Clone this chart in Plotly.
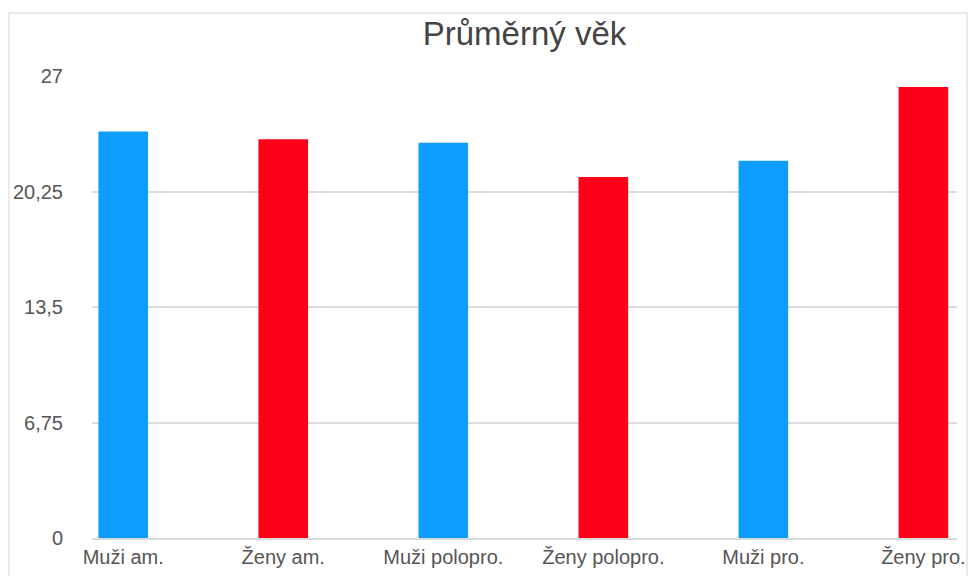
import plotly.graph_objects as go

categories = ["Muži am.", "Ženy am.", "Muži polopro.", "Ženy polopro.", "Muži pro.", "Ženy pro."]
values = [23.75, 23.3, 23.1, 21.1, 22.05, 26.35]
colors = ["#0F9CFF", "#FF0019", "#0F9CFF", "#FF0019", "#0F9CFF", "#FF0019"]
tick_vals = [0, 6.75, 13.5, 20.25, 27]
tick_text = ["0", "6,75", "13,5", "20,25", "27"]

W, H = 972, 576
L, R, T, B = 92, 15, 76, 38
pw, ph = W - L - R, H - T - B

fig = go.Figure(go.Bar(
    x=list(range(len(categories))), y=values,
    marker=dict(color=colors, line=dict(width=0)),
    width=0.31,
))

fig.update_layout(
    width=W, height=H,
    margin=dict(l=L, r=R, t=T, b=B),
    paper_bgcolor="white", plot_bgcolor="white",
    font=dict(family="Liberation Sans, Arial, sans-serif", color="#555555"),
    title=dict(text="Průměrný věk", x=(L + pw / 2) / W, xanchor="center",
               y=1 - 33 / H, yanchor="middle",
               font=dict(size=33, color="#444444")),
    showlegend=False,
    xaxis=dict(
        range=[-0.195, 5.21], tickmode="array", automargin=False,
        tickvals=list(range(len(categories))), ticktext=categories,
        showgrid=False, showline=True, linecolor="#d9d9d9", linewidth=2,
        ticks="", tickfont=dict(size=20, color="#555555"), zeroline=False,
    ),
    yaxis=dict(
        range=[0, 27], tickmode="array", tickvals=tick_vals, ticktext=tick_text,
        showgrid=True, gridcolor="#dcdcdc", gridwidth=2, zeroline=False,
        showline=False, ticks="", tickfont=dict(size=20, color="#555555"),
        ticklabelstandoff=28, automargin=False,
    ),
    shapes=[dict(
        type="rect", xref="paper", yref="paper",
        x0=(9 - L) / pw, x1=(967 - L) / pw,
        y0=(H - B - 600) / ph, y1=(H - B - 13) / ph,
        line=dict(color="#e4e4e4", width=1.5), fillcolor="rgba(0,0,0,0)",
        layer="below",
    )],
)

fig.write_html("out.html", config={"displayModeBar": False},
               post_script="document.body.style.margin='0';")
